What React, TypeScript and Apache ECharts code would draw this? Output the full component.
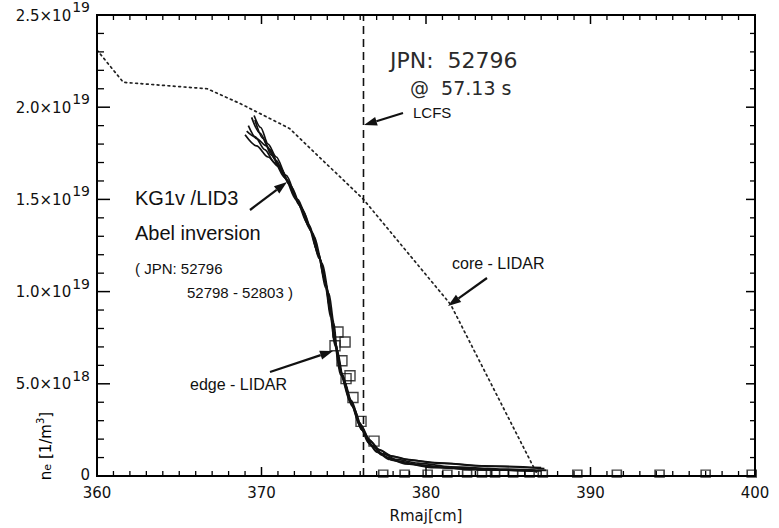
import { useEffect, useRef } from "react";
import * as echarts from "echarts";

// ---- axis ranges & tick labels ----
const xMin = 360;
const xMax = 400;
const yMax = 2.5e19;
const xTickLabels = ["360", "370", "380", "390", "400"];
const yTickLabels = ["0", "5.0×10^18", "1.0×10^19", "1.5×10^19", "2.0×10^19", "2.5×10^19"];

// ---- core LIDAR (dotted) ----
const coreR = [360, 361.6, 366.7, 368.7, 371.7, 376.2, 381.5, 386.7];
const coreNe = [2.31e19, 2.135e19, 2.1e19, 2.02e19, 1.885e19, 1.5e19, 0.93e19, 0.02e19];

// ---- KG1v / LID3 Abel inversion profiles ----
const abel1R = [369.4, 369.9, 370.5, 371.1, 371.7, 372.4, 373.1, 373.6, 374.0, 374.3, 374.5, 374.9, 375.5, 376.1, 376.6, 377.0, 377.7, 378.4, 379.6, 381.5, 384.5, 387.0];
const abel1Ne = [1.945e19, 1.86e19, 1.77e19, 1.68e19, 1.58e19, 1.46e19, 1.32e19, 1.17e19, 1.01e19, 0.85e19, 0.7e19, 0.54e19, 0.39e19, 0.25e19, 0.17e19, 0.135e19, 0.1e19, 0.08e19, 0.06e19, 0.043e19, 0.032e19, 0.027e19];
const abel2R = [369.6, 370.1, 370.6, 371.2, 371.8, 372.5, 373.2, 373.7, 374.1, 374.4, 374.6, 375.0, 375.6, 376.2, 376.8, 377.3, 378.0, 379.0, 380.5, 383.0, 386.5];
const abel2Ne = [1.93e19, 1.83e19, 1.74e19, 1.66e19, 1.57e19, 1.44e19, 1.3e19, 1.15e19, 0.99e19, 0.83e19, 0.68e19, 0.52e19, 0.37e19, 0.24e19, 0.16e19, 0.115e19, 0.085e19, 0.065e19, 0.05e19, 0.036e19, 0.026e19];
const abel3R = [369.0, 369.7, 370.4, 371.0, 371.6, 372.3, 373.0, 373.5, 373.9, 374.2, 374.45, 374.8, 375.4, 376.0, 376.5, 377.0, 377.8, 378.8, 380.5, 383.5, 386.8];
const abel3Ne = [1.85e19, 1.79e19, 1.73e19, 1.68e19, 1.6e19, 1.47e19, 1.33e19, 1.18e19, 1.02e19, 0.86e19, 0.71e19, 0.55e19, 0.4e19, 0.27e19, 0.18e19, 0.13e19, 0.09e19, 0.065e19, 0.045e19, 0.033e19, 0.028e19];
const abel4R = [369.2, 369.7, 370.3, 370.9, 371.5, 372.2, 372.9, 373.5, 373.95, 374.25, 374.5, 374.85, 375.45, 376.05, 376.6, 377.2, 378.0, 379.2, 381.0, 384.0, 387.2];
const abel4Ne = [1.9e19, 1.83e19, 1.79e19, 1.71e19, 1.61e19, 1.49e19, 1.35e19, 1.19e19, 1.03e19, 0.87e19, 0.72e19, 0.56e19, 0.41e19, 0.275e19, 0.19e19, 0.14e19, 0.105e19, 0.085e19, 0.068e19, 0.052e19, 0.04e19];
const abel5R = [369.55, 369.95, 370.4, 370.9, 371.5, 372.2, 372.9, 373.45, 373.9, 374.2, 374.45, 374.8, 375.35, 375.95, 376.5, 377.1, 377.8, 378.8, 380.5, 383.5, 387.0];
const abel5Ne = [1.955e19, 1.89e19, 1.8e19, 1.73e19, 1.63e19, 1.5e19, 1.36e19, 1.21e19, 1.05e19, 0.88e19, 0.73e19, 0.57e19, 0.42e19, 0.29e19, 0.2e19, 0.145e19, 0.11e19, 0.09e19, 0.072e19, 0.055e19, 0.045e19];
const abel6R = [369.1, 369.6, 370.2, 370.8, 371.4, 372.1, 372.8, 373.4, 373.85, 374.2, 374.5, 374.9, 375.5, 376.1, 376.7, 377.4, 378.2, 379.5, 381.5, 384.5, 387.3];
const abel6Ne = [1.87e19, 1.84e19, 1.77e19, 1.7e19, 1.62e19, 1.5e19, 1.37e19, 1.22e19, 1.06e19, 0.89e19, 0.72e19, 0.55e19, 0.38e19, 0.25e19, 0.165e19, 0.12e19, 0.09e19, 0.07e19, 0.05e19, 0.038e19, 0.03e19];

// ---- edge LIDAR (squares) ----
const edgeR = [374.65, 375.08, 374.47, 374.89, 375.38, 375.14, 375.56, 376.05, 376.84];
const edgeNe = [0.781e19, 0.727e19, 0.706e19, 0.625e19, 0.544e19, 0.528e19, 0.426e19, 0.296e19, 0.189e19];
const edgeLowR = [377.4, 378.7, 380.1, 381.3, 382.5, 383.4, 384.2, 385.3, 386.3, 387.1, 389.2, 391.6, 394.2, 397.0, 399.8];
const edgeLowNe = [0.013e19, 0.013e19, 0.013e19, 0.013e19, 0.013e19, 0.013e19, 0.013e19, 0.013e19, 0.013e19, 0.013e19, 0.013e19, 0.013e19, 0.013e19, 0.013e19, 0.013e19];

// ---- LCFS ----
const lcfsR = 376.2;

const zip = (a: number[], b: number[]) => a.map((v, i) => [v, b[i]]);

const AXIS_FONT = "DejaVu Sans";
const ANN_FONT = "Liberation Sans";

function arrow(x1: number, y1: number, x2: number, y2: number) {
  const ang = Math.atan2(y2 - y1, x2 - x1);
  const L = 13;
  const W = 4.5;
  const bx = x2 - L * Math.cos(ang);
  const by = y2 - L * Math.sin(ang);
  const px = -Math.sin(ang) * W;
  const py = Math.cos(ang) * W;
  return [
    {
      type: "line",
      shape: { x1, y1, x2: bx, y2: by },
      style: { stroke: "#111", lineWidth: 2.2 },
    },
    {
      type: "polygon",
      shape: { points: [[x2, y2], [bx + px, by + py], [bx - px, by - py]] },
      style: { fill: "#111" },
    },
  ];
}

function txt(text: string, x: number, y: number, size: number, family: string, fill = "#111") {
  return {
    type: "text",
    x,
    y,
    style: {
      text,
      font: `${size}px "${family}"`,
      fill,
      textAlign: "left",
      textVerticalAlign: "middle",
    },
  };
}

// frame + inward ticks on all four sides, positioned through the chart's own scales
function renderFrame(_params: any, api: any) {
  const [xl, yb] = api.coord([xMin, 0]);
  const [xr, yt] = api.coord([xMax, yMax]);
  const children: any[] = [];
  const seg = (x1: number, y1: number, x2: number, y2: number, w: number) =>
    children.push({ type: "line", shape: { x1, y1, x2, y2 }, style: { stroke: "#000", lineWidth: w } });
  for (let i = 0; i <= 40; i++) {
    const x = api.coord([xMin + i, 0])[0];
    const major = i % 10 === 0;
    const L = major ? 9 : 5;
    const w = major ? 1.5 : 1.3;
    seg(x, yb, x, yb - L, w);
    seg(x, yt, x, yt + L, w);
  }
  for (let i = 0; i <= 25; i++) {
    const y = api.coord([xMin, i * 1e18])[1];
    const major = i % 5 === 0;
    seg(xl, y, xl + (major ? 13 : 7), y, major ? 1.5 : 1.3);
    seg(xr, y, xr - (major ? 9 : 5), y, major ? 1.5 : 1.3);
  }
  children.push({
    type: "rect",
    shape: { x: xl, y: yt, width: xr - xl, height: yb - yt },
    style: { fill: "transparent", stroke: "#000", lineWidth: 2 },
  });
  return { type: "group", children };
}

export default function App() {
  const ref = useRef<HTMLDivElement>(null);
  useEffect(() => {
    document.body.style.margin = "0";
    const chart = echarts.init(ref.current!, null, { renderer: "svg" });
    const lineSeries = [
      [abel1R, abel1Ne],
      [abel2R, abel2Ne],
      [abel3R, abel3Ne],
      [abel4R, abel4Ne],
      [abel5R, abel5Ne],
      [abel6R, abel6Ne],
    ].map(([r, n]) => ({
      type: "line",
      data: zip(r, n),
      showSymbol: false,
      smooth: 0.3,
      smoothMonotone: "x",
      lineStyle: { color: "#111", width: 1.7 },
    }));

    const yLabelFmt = (_v: number, idx: number) => {
      const s = yTickLabels[idx] ?? "";
      const parts = s.split("^");
      if (parts.length === 1) return `{z|${parts[0]}}`;
      return `{b|${parts[0]}}{s|${parts[1]}}`;
    };

    chart.setOption({
      animation: false,
      grid: { left: 97, right: 24, top: 14, bottom: 50 },
      xAxis: [
        {
          type: "value",
          min: xMin,
          max: xMax,
          interval: 10,
          position: "bottom",
          axisLine: { show: false },
          axisTick: { show: false },
          splitLine: { show: false },
          axisLabel: {
            color: "#111111",
            fontSize: 15,
            fontFamily: AXIS_FONT,
            margin: 9,
            formatter: (_v: number, idx: number) => xTickLabels[idx] ?? "",
          },
          name: "Rmaj[cm]",
          nameLocation: "middle",
          nameGap: 32,
          nameTextStyle: { color: "#111111", fontSize: 15, fontFamily: AXIS_FONT },
        },
      ],
      yAxis: [
        {
          type: "value",
          min: 0,
          max: yMax,
          interval: 5e18,
          position: "left",
          axisLine: { show: false },
          axisTick: { show: false },
          splitLine: { show: false },
          axisLabel: {
            color: "#111111",
            margin: 7,
            formatter: yLabelFmt,
            rich: {
              b: { fontSize: 15, fontFamily: AXIS_FONT, color: "#111111", verticalAlign: "bottom", lineHeight: 16 },
              s: { fontSize: 14, fontFamily: AXIS_FONT, color: "#111111", verticalAlign: "bottom", lineHeight: 14, padding: [0, 0, 9, 1] },
              z: { fontSize: 15, fontFamily: AXIS_FONT, color: "#111111", lineHeight: 12, padding: [0, 0, 3, 0] },
            },
          },
        },
      ],
      series: [
        {
          type: "line",
          data: zip(coreR, coreNe),
          showSymbol: false,
          lineStyle: { color: "#222", width: 1.7, type: [1.8, 3.6], cap: "round" },
        },
        {
          type: "line",
          data: [[lcfsR, 0], [lcfsR, yMax]],
          showSymbol: false,
          lineStyle: { color: "#111", width: 1.6, type: [8, 5] },
        },
        ...lineSeries,
        {
          type: "scatter",
          data: zip(edgeR, edgeNe),
          symbol: "rect",
          symbolSize: 10,
          itemStyle: { color: "rgba(0,0,0,0)", borderColor: "#111", borderWidth: 1.4 },
        },
        {
          type: "scatter",
          data: zip(edgeLowR, edgeLowNe),
          symbol: "rect",
          symbolSize: [9, 7],
          itemStyle: { color: "rgba(0,0,0,0)", borderColor: "#111", borderWidth: 1.4 },
        },
        {
          type: "custom",
          data: [[xMin, 0]],
          renderItem: renderFrame,
          clip: false,
          silent: true,
          z: 10,
        },
      ],
      graphic: [
        txt("JPN:  52796", 390, 60, 22, AXIS_FONT, "#2a2a2a"),
        txt("@  57.13 s", 410, 88, 19, AXIS_FONT, "#2a2a2a"),
        txt("LCFS", 413, 112, 15, ANN_FONT),
        txt("KG1v /LID3", 135, 198, 20, ANN_FONT),
        txt("Abel inversion", 135, 233, 20, ANN_FONT),
        txt("( JPN: 52796", 135, 268, 15, ANN_FONT),
        txt("52798 - 52803 )", 187, 292, 15, ANN_FONT),
        txt("core - LIDAR", 452, 263, 16, ANN_FONT),
        txt("edge - LIDAR", 190, 384, 16, ANN_FONT),
        ...arrow(403, 113, 364, 125),
        ...arrow(250, 210, 287, 182),
        ...arrow(487, 278, 448, 306),
        ...arrow(270, 372, 333, 351),
        {
          type: "text",
          x: 45,
          y: 446,
          rotation: Math.PI / 2,
          style: {
            text: "{a|n}{e|e}{a| [1/m}{c|3}{a|]}",
            textAlign: "center",
            textVerticalAlign: "middle",
            rich: {
              a: { fontSize: 15, fontFamily: AXIS_FONT, color: "#111111", verticalAlign: "bottom", lineHeight: 16 },
              e: { fontSize: 11, fontFamily: AXIS_FONT, color: "#111111", verticalAlign: "bottom", lineHeight: 11 },
              c: { fontSize: 10, fontFamily: AXIS_FONT, color: "#111111", verticalAlign: "bottom", lineHeight: 10, padding: [0, 0, 8, 0] },
            },
          },
        },
      ],
    });
    return () => chart.dispose();
  }, []);
  return <div ref={ref} style={{ width: 779, height: 528 }} />;
}
